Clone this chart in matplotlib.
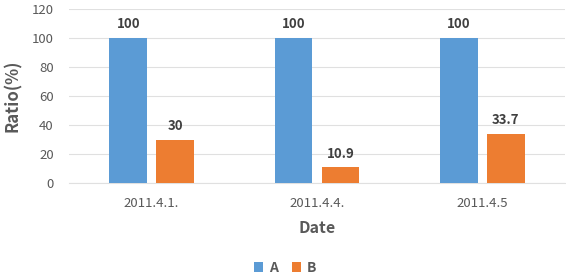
import numpy as np
import matplotlib.pyplot as plt

plt.rcParams['font.family'] = ['Noto Sans CJK KR', 'DejaVu Sans']

dates = ['2011.4.1.', '2011.4.4.', '2011.4.5']
series_a = [100, 100, 100]
series_b = [30, 10.9, 33.7]
labels_b = ['30', '10.9', '33.7']

fig = plt.figure(figsize=(5.66, 2.79), dpi=100)
ax = fig.add_axes([69 / 566, 0.343, 496 / 566, 0.624])

x = np.arange(len(dates))
w = 0.227
off = 0.142
bars_a = ax.bar(x - off, series_a, w, color='#5b9bd5', label='A', zorder=3)
bars_b = ax.bar(x + off, series_b, w, color='#ed7d31', label='B', zorder=3)

# 막대 위 값 표시
for b, v in zip(bars_a, series_a):
    ax.annotate(str(v), (b.get_x() + b.get_width() / 2, v), xytext=(0, 5),
                textcoords='offset points', ha='center', va='bottom',
                fontsize=9.5, fontweight='bold', color='#404040')
for b, v, t in zip(bars_b, series_b, labels_b):
    ax.annotate(t, (b.get_x() + b.get_width() / 2, v), xytext=(0, 5),
                textcoords='offset points', ha='center', va='bottom',
                fontsize=9.5, fontweight='bold', color='#404040')

ax.set_xlim(-0.5, 2.5)
ax.set_ylim(0, 120)
ax.set_yticks(range(0, 121, 20))
ax.set_xticks(x)
ax.set_xticklabels(dates)
ax.tick_params(axis='both', length=0, labelsize=9.5, colors='#595959')
ax.tick_params(axis='y', pad=11)
ax.tick_params(axis='x', pad=10)
ax.grid(axis='y', color='#e0e0e0', linewidth=0.8, zorder=0)
for s in ['top', 'right', 'left']:
    ax.spines[s].set_visible(False)
ax.spines['bottom'].set_color('#e0e0e0')

ax.set_ylabel('Ratio(%)', fontsize=12, fontweight='bold', color='#595959', labelpad=7)
ax.set_xlabel('Date', fontsize=11.5, fontweight='bold', color='#595959', labelpad=7)

leg = fig.legend(loc='center', bbox_to_anchor=(285 / 566, 1 - 268 / 279), ncol=2,
                 frameon=False, fontsize=10, handlelength=0.7, handleheight=0.7,
                 handletextpad=0.4, columnspacing=1.0)
for t in leg.get_texts():
    t.set_color('#595959')
    t.set_fontweight('bold')

fig.savefig('out.png', dpi=100)
